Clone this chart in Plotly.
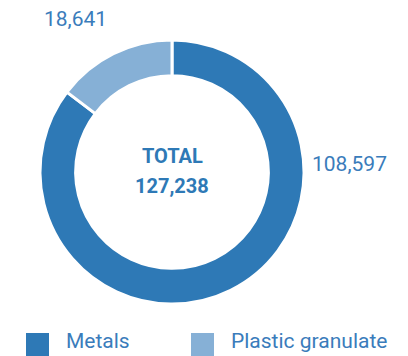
import plotly.graph_objects as go

W, H = 408, 356
OFF = 8  # page body margin shifts the figure by 8px

labels = ["Metals", "Plastic granulate"]
values = [108597, 18641]
colors = ["#2e79b6", "#86b0d6"]
total_label = "TOTAL"
text_color = "#3a7cbb"


def px_x(x):
    return (x - OFF) / W


def px_y(y):
    return (H - (y - OFF)) / H


fig = go.Figure(go.Pie(
    labels=labels,
    values=values,
    hole=0.73,
    sort=False,
    direction="clockwise",
    rotation=0,
    marker=dict(colors=colors, line=dict(color="white", width=3)),
    textinfo="none",
    hoverinfo="label+value",
    showlegend=False,
    domain=dict(x=[px_x(40), px_x(304)], y=[px_y(304), px_y(40)]),
))

total = sum(values)
fmt = lambda v: f"{v:,}"

annots = [
    # slice values
    dict(x=px_x(349), y=px_y(164), text=fmt(values[0])),
    dict(x=px_x(75), y=px_y(19), text=fmt(values[1])),
]
for a in annots:
    a.update(font=dict(family="Roboto", size=21, color=text_color))

# centre total
annots.append(dict(x=px_x(172), y=px_y(156), text=f"<b>{total_label}</b>",
                   font=dict(family="Roboto", size=20, color="#2e79b6")))
annots.append(dict(x=px_x(172), y=px_y(186), text=f"<b>{fmt(total)}</b>",
                   font=dict(family="Roboto", size=20, color="#2e79b6")))
for a in annots:
    a.update(xref="paper", yref="paper", showarrow=False,
             xanchor="center", yanchor="middle")

# legend drawn by hand (big square swatches)
shapes = []
leg_x = [26, 191]
for i, (lab, col) in enumerate(zip(labels, colors)):
    x0 = leg_x[i]
    shapes.append(dict(type="rect", xref="paper", yref="paper",
                       x0=px_x(x0), x1=px_x(x0 + 23), y0=px_y(358), y1=px_y(333),
                       fillcolor=col, line=dict(width=0)))
    annots.append(dict(x=px_x(x0 + 38), y=px_y(341), text=lab,
                       xanchor="left", yanchor="middle",
                       xref="paper", yref="paper", showarrow=False,
                       font=dict(family="Roboto", size=21, color=text_color)))

fig.update_layout(
    width=W, height=H,
    margin=dict(l=0, r=0, t=0, b=0),
    paper_bgcolor="white",
    plot_bgcolor="white",
    annotations=annots,
    shapes=shapes,
)

fig.write_html("out.html")
